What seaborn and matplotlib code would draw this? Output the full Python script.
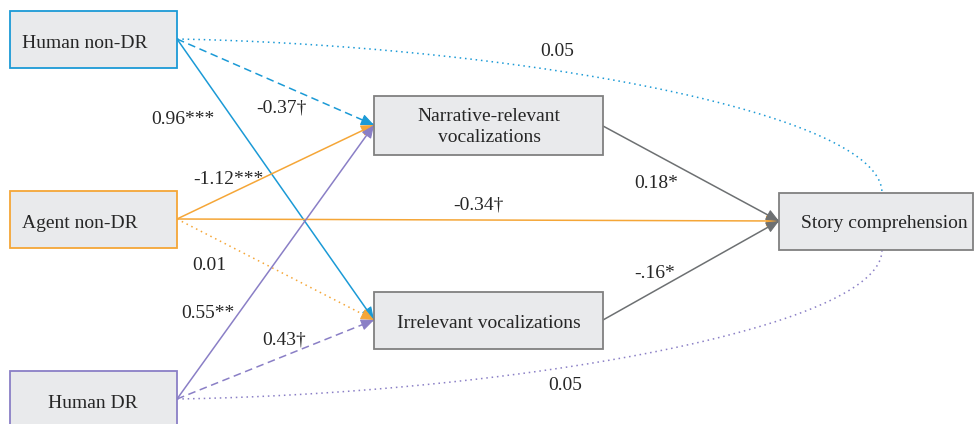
import matplotlib
matplotlib.use("Agg")
import matplotlib.pyplot as plt
from matplotlib.patches import Rectangle, FancyArrowPatch
import numpy as np
import pandas as pd
import seaborn as sns

# ---------------- data ----------------
node_names = ["Human non-DR", "Agent non-DR", "Human DR",
              "Narrative-relevant\nvocalizations", "Irrelevant vocalizations",
              "Story comprehension"]
edge_sources = ["Human non-DR", "Human non-DR", "Agent non-DR", "Agent non-DR",
                "Agent non-DR", "Human DR", "Human DR",
                "Narrative-relevant\nvocalizations", "Irrelevant vocalizations"]
edge_targets = ["Narrative-relevant\nvocalizations", "Irrelevant vocalizations",
                "Narrative-relevant\nvocalizations", "Story comprehension",
                "Irrelevant vocalizations", "Narrative-relevant\nvocalizations",
                "Irrelevant vocalizations", "Story comprehension", "Story comprehension"]
edge_labels = ["-0.37†", "0.96***", "-1.12***", "-0.34†", "0.01", "0.55**", "0.43†",
               "0.18*", "-.16*"]
curve_sources = ["Human non-DR", "Human DR"]
curve_labels = ["0.05", "0.05"]

# ---------------- layout / style ----------------
sns.set_theme(style="white")
plt.rcParams['font.family'] = ['Liberation Serif', 'DejaVu Serif']

BLUE = "#1b9ad6"
ORANGE = "#f5a637"
PURPLE = "#8a7fc6"
GRAY = "#6d7072"
BOXGRAY = "#808080"
FILL = "#e9eaec"
TXT = "#262626"

boxes = {  # x0, y0, x1, y1
    "Human non-DR": (10, 11, 177, 68),
    "Agent non-DR": (10, 191, 177, 248),
    "Human DR": (10, 371, 177, 430),
    "Narrative-relevant\nvocalizations": (374, 96, 603, 155),
    "Irrelevant vocalizations": (374, 292, 603, 349),
    "Story comprehension": (779, 193, 973, 250),
}
box_edge = {"Human non-DR": BLUE, "Agent non-DR": ORANGE, "Human DR": PURPLE}
text_pos = {
    "Human non-DR": (22, 43, "left"),
    "Agent non-DR": (22, 223, "left"),
    "Human DR": (93, 403, "center"),
    "Narrative-relevant\nvocalizations": (489, 127, "center"),
    "Irrelevant vocalizations": (489, 324, "center"),
    "Story comprehension": (884, 224, "center"),
}
out_port = {"Human non-DR": (177, 39), "Agent non-DR": (177, 219), "Human DR": (177, 399),
            "Narrative-relevant\nvocalizations": (603, 126),
            "Irrelevant vocalizations": (603, 320)}
in_port = {"Narrative-relevant\nvocalizations": (374, 125),
           "Irrelevant vocalizations": (374, 320),
           "Story comprehension": (779, 221)}
edge_color = {"Human non-DR": BLUE, "Agent non-DR": ORANGE, "Human DR": PURPLE,
              "Narrative-relevant\nvocalizations": GRAY, "Irrelevant vocalizations": GRAY}
edge_styles = ["--", "-", "-", "-", ":", "-", "--", "-", "-"]
label_pos = [(281, 108), (183, 119), (228, 179), (478, 205), (209, 265),
             (208, 313), (284, 340), (656, 183), (655, 274)]
curve_ctrl = [((500, 45), (882, 110), (882, 193)),
              ((500, 394), (882, 330), (882, 250))]
curve_label_pos = [(557, 51), (565, 386)]

fig = plt.figure(figsize=(9.74, 4.24), dpi=100)
ax = fig.add_axes([0, 0, 1, 1])
ax.set_xlim(0, 974)
ax.set_ylim(424, 0)
ax.axis("off")

FS = 14

# curves (drawn first)
for src, (c1, c2, end), lab, lp in zip(curve_sources, curve_ctrl, curve_labels, curve_label_pos):
    p0 = np.array(out_port[src], float)
    c1 = np.array(c1, float); c2 = np.array(c2, float); p3 = np.array(end, float)
    t = np.linspace(0, 1, 200)[:, None]
    pts = (1 - t) ** 3 * p0 + 3 * (1 - t) ** 2 * t * c1 + 3 * (1 - t) * t ** 2 * c2 + t ** 3 * p3
    df = pd.DataFrame({"x": pts[:, 0], "y": pts[:, 1]})
    sns.lineplot(data=df, x="x", y="y", ax=ax, sort=False, estimator=None,
                 color=edge_color[src], lw=1.1, linestyle=(0, (1, 2.5)))
    ax.text(lp[0], lp[1], lab, fontsize=FS, color=TXT, ha="center", va="center")

# straight edges
for src, tgt, lab, ls, lp in zip(edge_sources, edge_targets, edge_labels, edge_styles, label_pos):
    x0, y0 = out_port[src]
    x1, y1 = in_port[tgt]
    col = edge_color[src]
    if ls == "--":
        lsty = (0, (5, 3))
    elif ls == ":":
        lsty = (0, (1, 2.5))
    else:
        lsty = "-"
    df = pd.DataFrame({"x": [x0, x1], "y": [y0, y1]})
    sns.lineplot(data=df, x="x", y="y", ax=ax, sort=False, estimator=None,
                 color=col, lw=1.1, linestyle=lsty)
    d = np.array([x1 - x0, y1 - y0], float)
    d /= np.linalg.norm(d)
    start = (x1 - d[0] * 10, y1 - d[1] * 10)
    arr = FancyArrowPatch(start, (x1, y1), arrowstyle="-|>,head_length=0.8,head_width=0.35",
                          mutation_scale=10, color=col, lw=0.8, shrinkA=0, shrinkB=0, zorder=4)
    ax.add_patch(arr)
    ax.text(lp[0], lp[1], lab, fontsize=FS, color=TXT, ha="center", va="center", zorder=6)

# boxes
for name in node_names:
    x0, y0, x1, y1 = boxes[name]
    ec = box_edge.get(name, BOXGRAY)
    ax.add_patch(Rectangle((x0, y0), x1 - x0, y1 - y0, facecolor=FILL, edgecolor=ec,
                           lw=1.3, zorder=5, clip_on=True))
    tx, ty, ha = text_pos[name]
    ax.text(tx, ty, name, fontsize=FS, color=TXT, ha=ha, va="center",
            multialignment="center", linespacing=1.35, zorder=7)

fig.savefig("out.png", dpi=100)
